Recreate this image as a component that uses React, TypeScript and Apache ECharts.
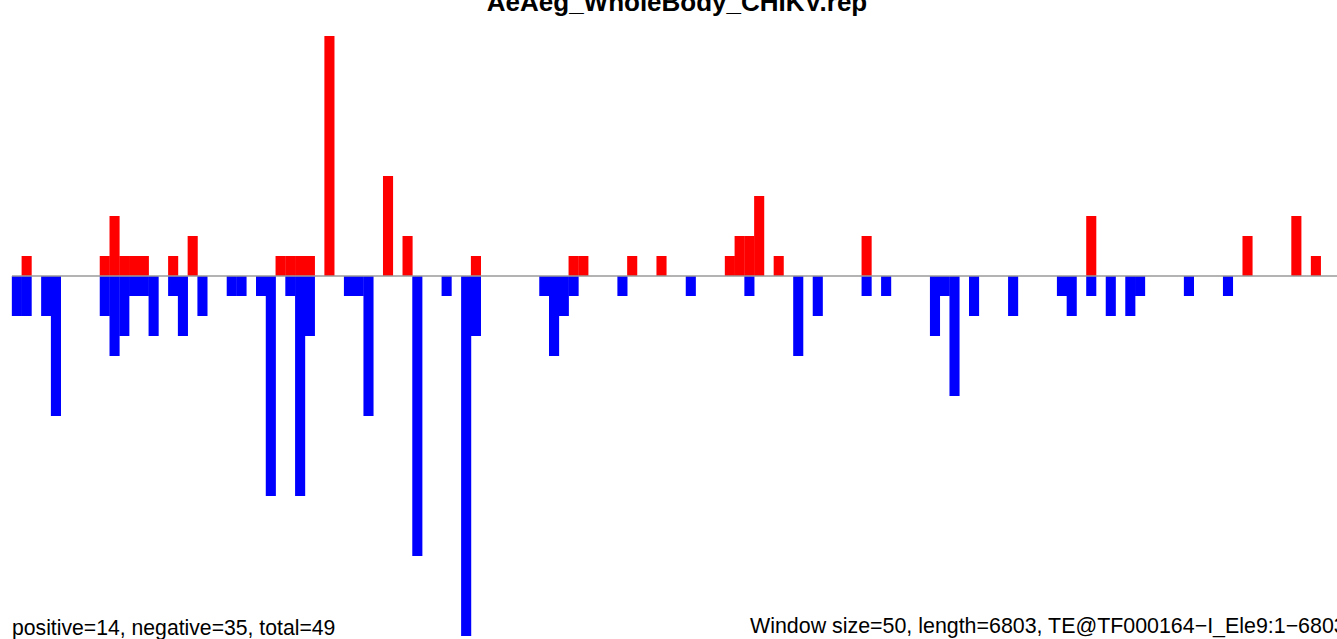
import React, { useEffect, useRef } from "react";
import * as echarts from "echarts";

// Windows of 50 nt over a 6803 nt element
const windowCount = 137;

// Positive-strand windows (0-based index) and their values
const posWindows = [1, 9, 10, 11, 12, 13, 16, 18, 27, 28, 29, 30, 32, 38, 40, 47, 57, 58, 63, 66, 73, 74, 75, 76, 78, 87, 110, 126, 131, 133];
const posValues = [1, 1, 3, 1, 1, 1, 1, 2, 1, 1, 1, 1, 12, 5, 2, 1, 1, 1, 1, 1, 1, 2, 2, 4, 1, 2, 3, 2, 3, 1];

// Negative-strand windows (0-based index) and their values
const negWindows = [0, 1, 3, 4, 9, 10, 11, 12, 13, 14, 16, 17, 19, 22, 23, 25, 26, 28, 29, 30, 34, 35, 36, 41, 44, 46, 47, 54, 55, 56, 57, 62, 69, 75, 80, 82, 87, 89, 94, 95, 96, 98, 102, 107, 108, 110, 112, 114, 115, 120, 124];
const negValues = [-2, -2, -2, -7, -2, -4, -3, -1, -1, -3, -1, -3, -2, -1, -1, -1, -11, -1, -11, -3, -1, -1, -7, -14, -1, -18, -3, -1, -4, -2, -1, -1, -1, -1, -4, -2, -1, -1, -3, -1, -6, -2, -2, -1, -2, -1, -2, -2, -1, -1, -1];

const yMin = -18;
const yMax = 12;

const titleText = "AeAeg_WholeBody_CHIKV.rep";
const leftFooter = "positive=14, negative=35, total=49";
const rightFooter = "Window size=50, length=6803, TE@TF000164\u2212I_Ele9:1\u22126803";

const FONT = '"Liberation Sans", Arial, Helvetica, sans-serif';

// layout: pixels per window, plot starts at x=12 and runs past the right edge
const PX_PER_WINDOW = 9.767;
const GRID_LEFT = 12;
const PAGE_W = 1337;

function buildPoints(idx: number[], vals: number[]): [number, number][] {
  return idx.map((w, k) => [w + 0.5, vals[k]]);
}

export default function App() {
  const ref = useRef<HTMLDivElement>(null);

  useEffect(() => {
    if (!ref.current) return;
    const chart = echarts.init(ref.current, undefined, { renderer: "svg" });
    const visibleWindows = (PAGE_W - GRID_LEFT) / PX_PER_WINDOW;
    chart.setOption({
      animation: false,
      backgroundColor: "#ffffff",
      grid: { left: GRID_LEFT, top: 36, right: 0, height: 600 },
      xAxis: {
        type: "value",
        min: 0,
        max: Math.min(windowCount, visibleWindows),
        show: false,
        splitLine: { show: false },
      },
      yAxis: {
        type: "value",
        min: yMin,
        max: yMax,
        show: false,
        splitLine: { show: false },
      },
      series: [
        {
          type: "bar",
          name: "positive",
          data: buildPoints(posWindows, posValues),
          barWidth: 10.1,
          barGap: "-100%",
          itemStyle: { color: "#ff0000" },
          silent: true,
        },
        {
          type: "bar",
          name: "negative",
          data: buildPoints(negWindows, negValues),
          barWidth: 10.1,
          barGap: "-100%",
          itemStyle: { color: "#0000ff" },
          silent: true,
          markLine: {
            silent: true,
            symbol: "none",
            label: { show: false },
            lineStyle: { color: "#9a9a9a", width: 1.5, type: "solid" },
            data: [{ yAxis: 0 }],
          },
        },
      ],
      graphic: [
        {
          type: "text",
          x: 677,
          y: 2,
          style: {
            text: titleText,
            fontFamily: FONT,
            fontWeight: "bold",
            fontSize: 26,
            fill: "#000",
            align: "center",
            verticalAlign: "middle",
          },
        },
        {
          type: "text",
          x: 12,
          y: 627,
          style: {
            text: leftFooter,
            fontFamily: FONT,
            fontSize: 21.2,
            fill: "#000",
            align: "left",
            verticalAlign: "middle",
          },
        },
        {
          type: "text",
          x: 750,
          y: 626,
          style: {
            text: rightFooter,
            fontFamily: FONT,
            fontSize: 21.4,
            fill: "#000",
            align: "left",
            verticalAlign: "middle",
          },
        },
      ],
    });
    return () => chart.dispose();
  }, []);

  return (
    <div
      ref={ref}
      style={{ position: "fixed", left: 0, top: 0, width: PAGE_W, height: 639, background: "#fff" }}
    />
  );
}
